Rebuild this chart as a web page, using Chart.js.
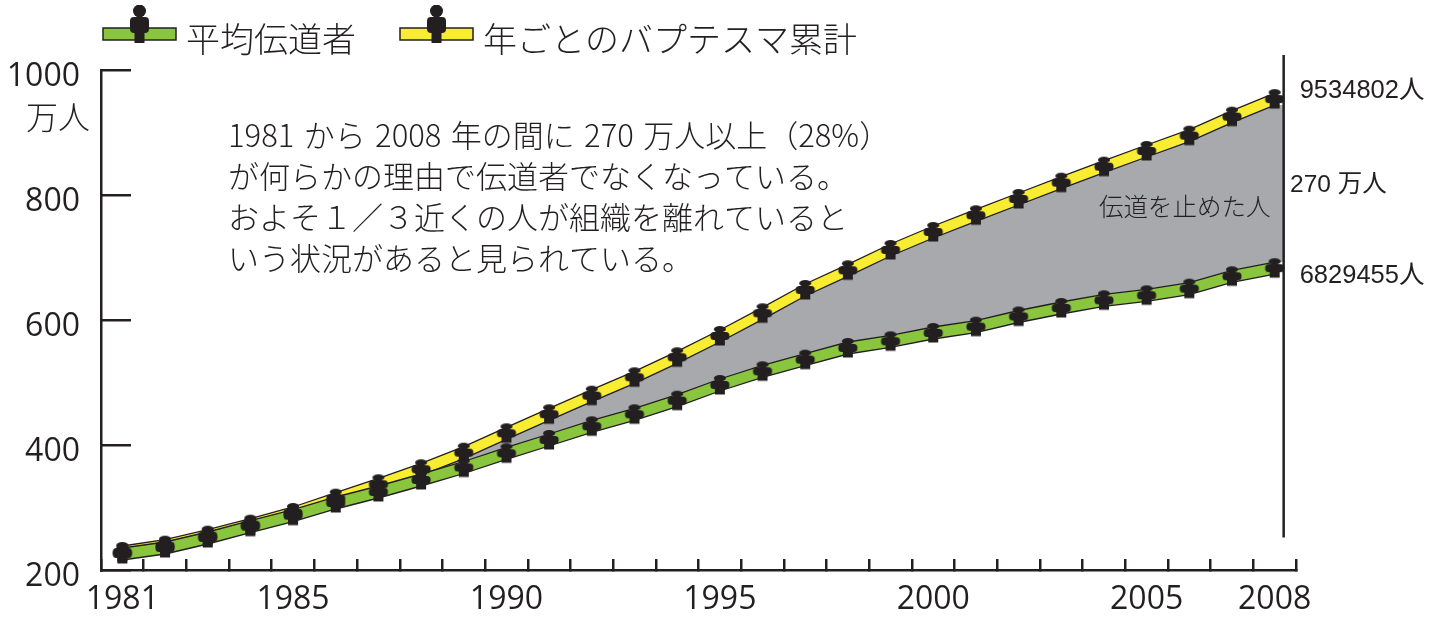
<!DOCTYPE html>
<html lang="ja">
<head>
<meta charset="utf-8">
<title>伝道者数の推移</title>
<script src="https://cdn.jsdelivr.net/npm/chart.js@4/dist/chart.umd.min.js"></script>
<style>
	html, body { margin: 0; padding: 0; background: #fff; }
	canvas { display: block; }
</style>
</head>
<body>
<canvas id="chart" width="1447" height="631"></canvas>
<script>
const years = [1981, 1982, 1983, 1984, 1985, 1986, 1987, 1988, 1989, 1990, 1991, 1992, 1993, 1994, 1995, 1996, 1997, 1998, 1999, 2000, 2001, 2002, 2003, 2004, 2005, 2006, 2007, 2008];
const labeled_years = [1981, 1985, 1990, 1995, 2000, 2005, 2008];

// 万人
const baptized_total = [228.8, 238.9, 254.9, 272.5, 291.2, 314.1, 337.1, 361.1, 387.7, 418.7, 449.1, 478.9, 508.3, 540.3, 574.4, 610.7, 648, 679.5, 712, 740.8, 767.5, 793.6, 819.7, 845.3, 870.4, 894.9, 925.3, 953.4802];
const publishers = [225.6, 235.2, 251.2, 269.3, 286.9, 307.2, 324.8, 344, 364, 386.7, 408, 429.9, 449.1, 470.9, 496, 517.9, 536.5, 555.2, 565.9, 579.2, 589.3, 605.6, 619.2, 631.5, 639.5, 650.1, 669.9, 682.9455];

const legend_labels = ['平均伝道者', '年ごとのバプテスマ累計'];
const note_lines = [
	'1981 から 2008 年の間に 270 万人以上（28%）',
	'が何らかの理由で伝道者でなくなっている。',
	'およそ１／３近くの人が組織を離れていると',
	'いう状況があると見られている。'
];
const unit_label = '万人';
const gap_label = '伝道を止めた人';
const gap_total_label = '270 万人';
const end_labels = ['9534802人', '6829455人'];

const INK = '#231f20';
const GREEN = '#8ac53e';
const YELLOW = '#f9ed32';
const GRAY = '#a7a9ac';
const BAND = 9.6;
const SANS = '"Open Sans", "Noto Sans CJK JP", sans-serif';
const CJK = '"Noto Sans CJK JP", sans-serif';
const HELV = '"Liberation Sans", "Noto Sans CJK JP", sans-serif';

function make_canvas(w, h) {
	const c = document.createElement('canvas');
	c.width = w;
	c.height = h;
	return c;
}

// small figure sitting on each yearly point
function person_marker() {
	const c = make_canvas(22, 22);
	const ctx = c.getContext('2d');
	ctx.fillStyle = INK;
	ctx.translate(11, 11);
	ctx.beginPath();
	ctx.ellipse(0, -6.8, 6, 3.2, 0, 0, Math.PI * 2);
	ctx.fill();
	ctx.fillRect(-3, -5, 6, 3);
	ctx.beginPath();
	ctx.roundRect(-9.5, -4, 19, 8, 3.5);
	ctx.fill();
	ctx.fillRect(-5, 2, 10, 7.5);
	return c;
}

// legend icon: band swatch with a taller figure over it
function legend_icon(color) {
	const c = make_canvas(75, 72);
	const ctx = c.getContext('2d');
	ctx.fillStyle = color;
	ctx.strokeStyle = INK;
	ctx.lineWidth = 1.5;
	ctx.fillRect(1, 25, 73, 12);
	ctx.strokeRect(1, 25, 73, 12);
	ctx.fillStyle = INK;
	ctx.beginPath();
	ctx.arc(37.5, 8, 6.5, 0, Math.PI * 2);
	ctx.fill();
	ctx.beginPath();
	ctx.roundRect(28, 14, 19, 16, 4);
	ctx.fill();
	ctx.fillRect(32.5, 24, 10, 16);
	return c;
}

function edge(values, offset, options) {
	return Object.assign({
		data: values.map(v => v + offset),
		borderColor: INK,
		borderWidth: 1.3,
		pointRadius: 0,
		fill: false,
		clip: false
	}, options);
}

const marker = person_marker();

function people(values, order) {
	return {
		data: values,
		showLine: false,
		pointStyle: marker,
		pointRadius: 11,
		clip: false,
		order: order
	};
}

const plugin_extras = {
	id: 'extras',
	// the tick labels need the full left margin, so the legend is moved over to the axis here
	afterLayout(chart) {
		chart.legend.left = 93;
		chart.legend.top = 5;
	},
	beforeDatasetsDraw(chart) {
		const { x, y } = chart.scales;
		const last = years.length - 1;
		const x_end = x.getPixelForValue(last);
		const top = y.getPixelForValue(baptized_total[last] - BAND);
		const bottom = y.getPixelForValue(publishers[last] + BAND);
		chart.ctx.fillStyle = GRAY;
		chart.ctx.fillRect(x_end - 1, top, 10, bottom - top);
	},
	afterDatasetsDraw(chart) {
		const ctx = chart.ctx;
		const { x, y } = chart.scales;
		const last = years.length - 1;
		const x_line = x.getPixelForValue(last) + 9;

		ctx.save();
		ctx.strokeStyle = INK;
		ctx.lineWidth = 2.5;
		ctx.beginPath();
		ctx.moveTo(x_line, y.getPixelForValue(1024));
		ctx.lineTo(x_line, y.getPixelForValue(252));
		ctx.stroke();

		ctx.fillStyle = INK;
		ctx.textBaseline = 'middle';
		ctx.textAlign = 'left';

		ctx.font = '300 31px ' + CJK;
		ctx.wordSpacing = '2.5px';
		note_lines.forEach((line, i) => ctx.fillText(line, 228, 135 + i * 41.2));
		ctx.wordSpacing = '0px';

		ctx.font = '300 24.5px ' + CJK;
		ctx.fillText(gap_label, 1099, 207);

		ctx.font = '24.5px ' + HELV;
		ctx.fillText(gap_total_label, 1290, 185);

		ctx.font = '25.5px ' + HELV;
		ctx.fillText(end_labels[0], x_line + 16, y.getPixelForValue(baptized_total[last]) - 8);
		ctx.fillText(end_labels[1], x_line + 16, y.getPixelForValue(publishers[last]) + 8);

		ctx.font = '300 32px ' + CJK;
		ctx.textAlign = 'right';
		ctx.fillText(unit_label, 90, 117);
		ctx.restore();
	}
};

new Chart(document.getElementById('chart'), {
	type: 'line',
	data: {
		labels: years,
		datasets: [
			// indexes 0-2 are the fill targets of the bands below
			edge(publishers, -BAND, { order: 3 }),
			edge(publishers, BAND, { order: 4, backgroundColor: GREEN, fill: { target: 0 } }),
			edge(baptized_total, -BAND, { order: 7, borderWidth: 0, backgroundColor: GRAY, fill: { target: 1, above: GRAY, below: 'rgba(0,0,0,0)' } }),
			edge(baptized_total, BAND, { order: 6, backgroundColor: YELLOW, fill: { target: 2 } }),
			edge(baptized_total, -BAND, { order: 5 }),
			people(publishers, 1),
			people(baptized_total, 2)
		]
	},
	options: {
		responsive: false,
		animation: false,
		events: [],
		layout: {
			padding: { left: 0, right: 151, top: 9, bottom: 0 }
		},
		plugins: {
			tooltip: { enabled: false },
			legend: {
				position: 'top',
				align: 'start',
				labels: {
					usePointStyle: true,
					pointStyleWidth: 59,
					padding: 17,
					color: INK,
					font: { family: CJK, size: 34, weight: '300' },
					// trailing ideographic space widens the gap between the two entries
					generateLabels: () => [
						{ text: legend_labels[0] + '\u3000', pointStyle: legend_icon(GREEN), fontColor: INK, lineWidth: 0, datasetIndex: 5 },
						{ text: legend_labels[1], pointStyle: legend_icon(YELLOW), fontColor: INK, lineWidth: 0, datasetIndex: 6 }
					]
				}
			}
		},
		scales: {
			x: {
				type: 'category',
				offset: true,
				afterFit(scale) { scale.height = 61; },
				border: { color: INK, width: 2.5 },
				grid: { offset: true, drawOnChartArea: false, color: INK, lineWidth: 2.5, tickLength: -11, tickWidth: 2.5 },
				ticks: {
					autoSkip: false,
					maxRotation: 0,
					padding: 22,
					color: INK,
					font: { family: SANS, size: 32 },
					callback(value, index) {
						return labeled_years.includes(years[index]) ? String(years[index]) : '';
					}
				}
			},
			y: {
				min: 200,
				max: 1000,
				afterFit(scale) {
					scale.width = 101;
					scale.paddingTop = 0;
					scale.paddingBottom = 0;
				},
				border: { color: INK, width: 2.5 },
				grid: { drawOnChartArea: false, color: INK, lineWidth: 2.5, tickLength: -30, tickWidth: 2.5 },
				ticks: {
					stepSize: 200,
					padding: 51,
					color: INK,
					// empty first line plus a short line height sets the number just under its tick
					font: { family: SANS, size: 32, lineHeight: 0.45 },
					callback: value => ['', String(value)]
				}
			}
		}
	},
	plugins: [plugin_extras]
});
</script>
</body>
</html>
